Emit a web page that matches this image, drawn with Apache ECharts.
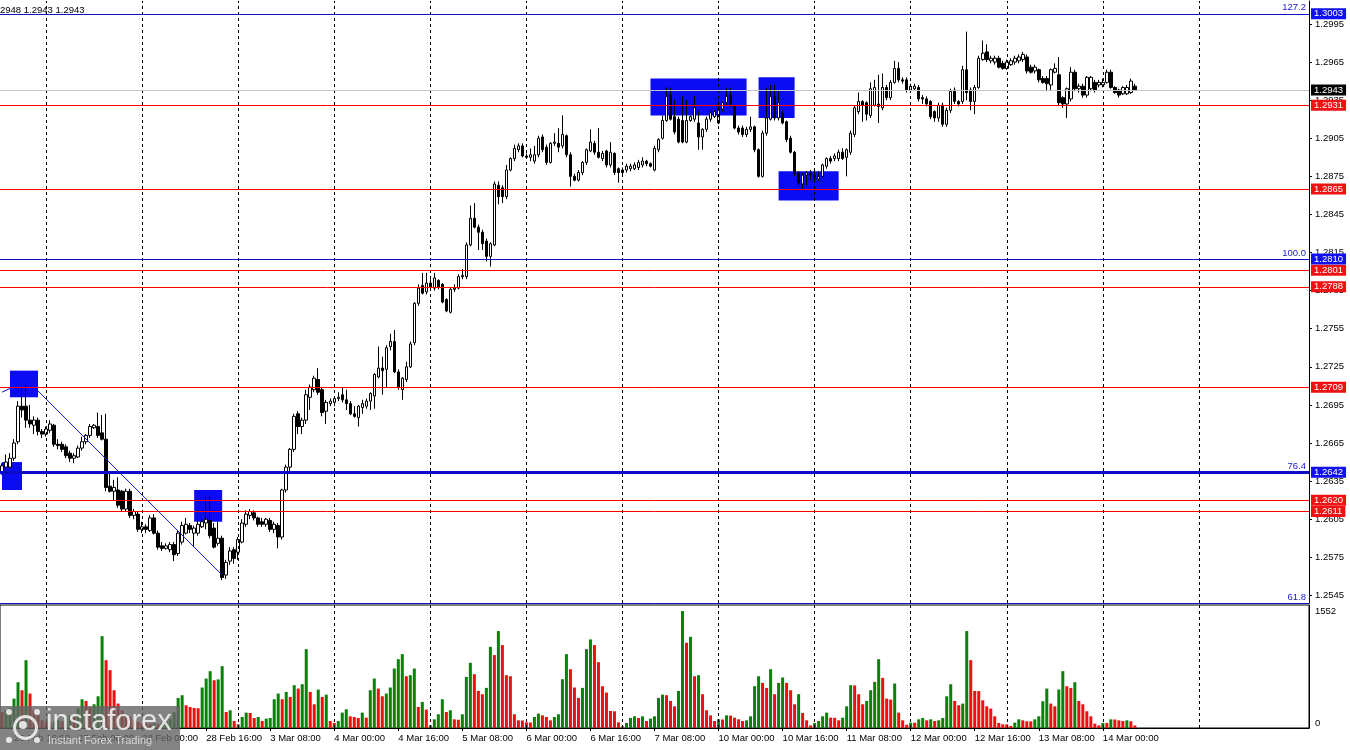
<!DOCTYPE html>
<html><head><meta charset="utf-8">
<script src="https://cdn.jsdelivr.net/npm/echarts@6/dist/echarts.min.js"></script>
<style>html,body{margin:0;padding:0;background:#fff;overflow:hidden}#c{width:1350px;height:750px}</style>
</head><body><div id="c"></div>
<script>
// ---------- data ----------
const tradingDays = ['26 Feb','27 Feb','28 Feb','3 Mar','4 Mar','5 Mar','6 Mar','7 Mar','10 Mar','11 Mar','12 Mar','13 Mar','14 Mar','17 Mar','18 Mar'];
const firstHour = 13;
const categoryCount = 327;
// [open, close, low, high]
const candles = [
[1.2642,1.2647,1.2640,1.2649],[1.2646,1.2650,1.2644,1.2656],[1.2646,1.2653,1.2645,1.2657],[1.2653,1.2665,1.2651,1.2668],
[1.2666,1.2694,1.2664,1.2698],[1.2694,1.2691,1.2685,1.2709],[1.2694,1.2683,1.2677,1.2711],[1.2683,1.2680,1.2677,1.2695],
[1.2679,1.2683,1.2672,1.2686],[1.2683,1.2674,1.2671,1.2685],[1.2674,1.2672,1.2669,1.2676],[1.2672,1.2676,1.2670,1.2678],
[1.2675,1.2680,1.2673,1.2683],[1.2679,1.2664,1.2662,1.2680],[1.2664,1.2663,1.2660,1.2668],[1.2664,1.2660,1.2658,1.2666],
[1.2662,1.2655,1.2653,1.2664],[1.2657,1.2653,1.2650,1.2659],[1.2653,1.2655,1.2649,1.2657],[1.2654,1.2661,1.2653,1.2663],
[1.2661,1.2666,1.2659,1.2670],[1.2666,1.2671,1.2664,1.2672],[1.2671,1.2678,1.2669,1.2680],[1.2677,1.2679,1.2676,1.2680],
[1.2678,1.2671,1.2669,1.2689],[1.2673,1.2668,1.2667,1.2687],[1.2668,1.2630,1.2627,1.2688],[1.2631,1.2627,1.2626,1.2642],
[1.2627,1.2630,1.2620,1.2636],[1.2628,1.2616,1.2614,1.2638],[1.2627,1.2613,1.2611,1.2628],[1.2613,1.2627,1.2611,1.2629],
[1.2627,1.2608,1.2606,1.2629],[1.2608,1.2611,1.2605,1.2613],[1.2609,1.2597,1.2595,1.2611],[1.2597,1.2599,1.2594,1.2603],
[1.2599,1.2597,1.2594,1.2601],[1.2596,1.2606,1.2595,1.2608],[1.2606,1.2594,1.2593,1.2609],[1.2594,1.2583,1.2581,1.2596],
[1.2584,1.2582,1.2580,1.2587],[1.2582,1.2584,1.2581,1.2586],[1.2581,1.2585,1.2579,1.2587],[1.2585,1.2577,1.2572,1.2587],
[1.2578,1.2594,1.2576,1.2596],[1.2587,1.2600,1.2585,1.2603],[1.2594,1.2601,1.2593,1.2606],[1.2600,1.2597,1.2594,1.2602],
[1.2594,1.2598,1.2583,1.2600],[1.2594,1.2601,1.2592,1.2604],[1.2599,1.2603,1.2598,1.2606],[1.2602,1.2605,1.2597,1.2623],
[1.2604,1.2592,1.2590,1.2623],[1.2598,1.2583,1.2582,1.2602],[1.2586,1.2590,1.2584,1.2603],[1.2590,1.2559,1.2557,1.2592],
[1.2561,1.2571,1.2558,1.2573],[1.2572,1.2580,1.2569,1.2583],[1.2581,1.2574,1.2570,1.2583],[1.2579,1.2589,1.2573,1.2591],
[1.2587,1.2602,1.2586,1.2605],[1.2601,1.2609,1.2599,1.2612],[1.2608,1.2611,1.2605,1.2613],[1.2610,1.2606,1.2604,1.2612],
[1.2606,1.2601,1.2599,1.2607],[1.2603,1.2601,1.2599,1.2606],[1.2601,1.2605,1.2599,1.2606],[1.2604,1.2597,1.2595,1.2606],
[1.2597,1.2601,1.2594,1.2603],[1.2600,1.2591,1.2582,1.2602],[1.2591,1.2628,1.2589,1.2629],[1.2628,1.2646,1.2626,1.2648],
[1.2646,1.2660,1.2642,1.2661],[1.2660,1.2686,1.2658,1.2688],[1.2688,1.2678,1.2672,1.2690],[1.2678,1.2683,1.2672,1.2685],
[1.2683,1.2703,1.2680,1.2707],[1.2701,1.2709,1.2691,1.2711],[1.2707,1.2716,1.2705,1.2718],[1.2715,1.2705,1.2703,1.2724],
[1.2707,1.2689,1.2686,1.2709],[1.2690,1.2697,1.2680,1.2699],[1.2696,1.2698,1.2694,1.2700],[1.2697,1.2700,1.2694,1.2702],
[1.2700,1.2701,1.2698,1.2705],[1.2703,1.2699,1.2697,1.2709],[1.2699,1.2696,1.2691,1.2707],[1.2696,1.2688,1.2687,1.2698],
[1.2688,1.2686,1.2685,1.2694],[1.2685,1.2694,1.2678,1.2695],[1.2693,1.2696,1.2688,1.2699],[1.2694,1.2698,1.2692,1.2700],
[1.2698,1.2704,1.2691,1.2705],[1.2702,1.2719,1.2692,1.2720],[1.2717,1.2724,1.2716,1.2741],[1.2724,1.2722,1.2703,1.2733],
[1.2723,1.2740,1.2709,1.2742],[1.2741,1.2745,1.2738,1.2751],[1.2745,1.2721,1.2720,1.2754],[1.2721,1.2709,1.2707,1.2723],
[1.2707,1.2716,1.2699,1.2717],[1.2715,1.2725,1.2713,1.2729],[1.2725,1.2743,1.2724,1.2745],[1.2744,1.2775,1.2742,1.2776],
[1.2775,1.2787,1.2773,1.2790],[1.2789,1.2783,1.2782,1.2799],[1.2784,1.2791,1.2782,1.2799],[1.2791,1.2788,1.2786,1.2794],
[1.2787,1.2795,1.2785,1.2799],[1.2793,1.2788,1.2786,1.2794],[1.2790,1.2776,1.2775,1.2791],[1.2778,1.2769,1.2768,1.2779],
[1.2768,1.2786,1.2767,1.2787],[1.2786,1.2787,1.2784,1.2790],[1.2787,1.2796,1.2786,1.2798],[1.2796,1.2797,1.2794,1.2802],
[1.2796,1.2821,1.2794,1.2823],[1.2821,1.2842,1.2820,1.2852],[1.2842,1.2835,1.2834,1.2854],[1.2835,1.2831,1.2817,1.2837],
[1.2831,1.2822,1.2817,1.2833],[1.2824,1.2812,1.2808,1.2826],[1.2812,1.2822,1.2804,1.2823],[1.2821,1.2869,1.2820,1.2871],
[1.2868,1.2859,1.2853,1.2871],[1.2866,1.2859,1.2854,1.2868],[1.2859,1.2880,1.2857,1.2884],[1.2880,1.2889,1.2879,1.2890],
[1.2889,1.2897,1.2887,1.2900],[1.2896,1.2899,1.2894,1.2901],[1.2899,1.2891,1.2890,1.2901],[1.2891,1.2890,1.2889,1.2893],
[1.2890,1.2892,1.2887,1.2897],[1.2887,1.2892,1.2885,1.2899],[1.2892,1.2905,1.2890,1.2907],[1.2906,1.2896,1.2894,1.2908],
[1.2898,1.2886,1.2884,1.2900],[1.2886,1.2901,1.2885,1.2902],[1.2901,1.2902,1.2899,1.2909],[1.2901,1.2898,1.2894,1.2913],
[1.2899,1.2908,1.2897,1.2923],[1.2907,1.2892,1.2890,1.2908],[1.2892,1.2875,1.2867,1.2894],[1.2875,1.2872,1.2871,1.2877],
[1.2872,1.2878,1.2871,1.2880],[1.2878,1.2886,1.2876,1.2887],[1.2886,1.2896,1.2884,1.2897],[1.2895,1.2902,1.2894,1.2912],
[1.2901,1.2894,1.2892,1.2903],[1.2894,1.2890,1.2889,1.2913],[1.2889,1.2893,1.2887,1.2895],[1.2895,1.2884,1.2882,1.2896],
[1.2884,1.2894,1.2882,1.2902],[1.2893,1.2878,1.2876,1.2894],[1.2881,1.2878,1.2870,1.2882],[1.2880,1.2878,1.2876,1.2882],
[1.2880,1.2883,1.2878,1.2885],[1.2881,1.2883,1.2879,1.2885],[1.2881,1.2884,1.2880,1.2886],[1.2882,1.2886,1.2880,1.2888],
[1.2884,1.2887,1.2882,1.2890],[1.2887,1.2885,1.2883,1.2888],[1.2885,1.2883,1.2882,1.2886],[1.2880,1.2897,1.2879,1.2899],
[1.2896,1.2904,1.2894,1.2905],[1.2905,1.2919,1.2904,1.2923],[1.2919,1.2938,1.2918,1.2945],[1.2939,1.2920,1.2919,1.2945],
[1.2922,1.2910,1.2908,1.2935],[1.2920,1.2902,1.2901,1.2922],[1.2919,1.2902,1.2901,1.2938],[1.2902,1.2919,1.2901,1.2935],
[1.2919,1.2922,1.2918,1.2923],[1.2920,1.2929,1.2918,1.2938],[1.2917,1.2906,1.2896,1.2927],[1.2906,1.2912,1.2896,1.2913],
[1.2912,1.2920,1.2910,1.2922],[1.2920,1.2925,1.2918,1.2927],[1.2922,1.2926,1.2921,1.2927],[1.2917,1.2929,1.2916,1.2931],
[1.2928,1.2933,1.2926,1.2934],[1.2933,1.2938,1.2931,1.2945],[1.2939,1.2932,1.2930,1.2945],[1.2930,1.2913,1.2912,1.2931],
[1.2913,1.2910,1.2908,1.2915],[1.2913,1.2908,1.2906,1.2915],[1.2908,1.2912,1.2906,1.2914],[1.2912,1.2914,1.2910,1.2922],
[1.2914,1.2896,1.2894,1.2915],[1.2896,1.2875,1.2874,1.2897],[1.2875,1.2909,1.2874,1.2911],[1.2909,1.2921,1.2907,1.2945],
[1.2920,1.2938,1.2919,1.2947],[1.2938,1.2921,1.2919,1.2947],[1.2921,1.2933,1.2919,1.2943],[1.2925,1.2917,1.2916,1.2927],
[1.2918,1.2904,1.2902,1.2919],[1.2905,1.2894,1.2893,1.2907],[1.2894,1.2877,1.2875,1.2895],[1.2878,1.2870,1.2868,1.2879],
[1.2869,1.2876,1.2865,1.2878],[1.2876,1.2878,1.2868,1.2879],[1.2878,1.2876,1.2872,1.2880],[1.2874,1.2876,1.2872,1.2880],
[1.2873,1.2875,1.2871,1.2879],[1.2875,1.2884,1.2874,1.2885],[1.2883,1.2889,1.2881,1.2890],[1.2889,1.2887,1.2885,1.2891],
[1.2889,1.2891,1.2887,1.2893],[1.2889,1.2894,1.2887,1.2896],[1.2894,1.2889,1.2888,1.2897],[1.2890,1.2896,1.2875,1.2897],
[1.2894,1.2909,1.2892,1.2911],[1.2908,1.2929,1.2906,1.2931],[1.2926,1.2934,1.2924,1.2941],[1.2934,1.2931,1.2918,1.2935],
[1.2933,1.2924,1.2919,1.2934],[1.2923,1.2944,1.2921,1.2949],[1.2931,1.2945,1.2930,1.2951],[1.2932,1.2930,1.2917,1.2955],
[1.2929,1.2945,1.2927,1.2956],[1.2945,1.2937,1.2935,1.2947],[1.2937,1.2949,1.2935,1.2951],[1.2949,1.2960,1.2948,1.2966],
[1.2960,1.2951,1.2949,1.2965],[1.2951,1.2950,1.2948,1.2953],[1.2951,1.2943,1.2941,1.2953],[1.2943,1.2946,1.2941,1.2948],
[1.2944,1.2946,1.2943,1.2948],[1.2945,1.2936,1.2934,1.2947],[1.2937,1.2936,1.2932,1.2939],[1.2936,1.2932,1.2930,1.2938],
[1.2934,1.2922,1.2920,1.2935],[1.2926,1.2921,1.2918,1.2927],[1.2921,1.2931,1.2918,1.2933],[1.2931,1.2916,1.2914,1.2933],
[1.2916,1.2927,1.2914,1.2929],[1.2927,1.2942,1.2925,1.2944],[1.2943,1.2934,1.2932,1.2945],[1.2934,1.2932,1.2930,1.2935],
[1.2934,1.2959,1.2932,1.2962],[1.2959,1.2941,1.2935,1.2989],[1.2943,1.2934,1.2927,1.2945],[1.2934,1.2945,1.2924,1.2947],
[1.2945,1.2968,1.2944,1.2970],[1.2967,1.2972,1.2966,1.2982],[1.2973,1.2967,1.2965,1.2979],[1.2966,1.2968,1.2964,1.2970],
[1.2965,1.2968,1.2963,1.2970],[1.2968,1.2961,1.2960,1.2970],[1.2964,1.2960,1.2959,1.2966],[1.2960,1.2965,1.2959,1.2967],
[1.2963,1.2966,1.2962,1.2968],[1.2965,1.2968,1.2963,1.2970],[1.2966,1.2969,1.2964,1.2971],[1.2967,1.2971,1.2965,1.2973],
[1.2969,1.2958,1.2956,1.2971],[1.2961,1.2957,1.2956,1.2963],[1.2958,1.2961,1.2956,1.2963],[1.2959,1.2951,1.2949,1.2960],
[1.2952,1.2949,1.2948,1.2954],[1.2952,1.2948,1.2942,1.2954],[1.2947,1.2959,1.2943,1.2960],[1.2957,1.2960,1.2956,1.2964],
[1.2955,1.2933,1.2931,1.2969],[1.2937,1.2932,1.2929,1.2938],[1.2932,1.2944,1.2921,1.2945],[1.2936,1.2957,1.2934,1.2961],
[1.2957,1.2944,1.2942,1.2959],[1.2944,1.2946,1.2941,1.2948],[1.2946,1.2939,1.2937,1.2948],[1.2939,1.2953,1.2937,1.2954],
[1.2944,1.2953,1.2942,1.2954],[1.2949,1.2943,1.2941,1.2951],[1.2947,1.2949,1.2945,1.2951],[1.2947,1.2949,1.2945,1.2952],
[1.2949,1.2957,1.2948,1.2959],[1.2957,1.2945,1.2944,1.2959],[1.2945,1.2941,1.2940,1.2946],[1.2943,1.2939,1.2937,1.2944],
[1.2940,1.2945,1.2939,1.2946],[1.2940,1.2945,1.2939,1.2947],[1.2941,1.2950,1.2940,1.2952],[1.2946,1.2943,1.2943,1.2948]
];
const volumes = [
213,235,270,390,607,501,900,457,235,168,102,80,
70,85,110,90,130,170,150,260,
381,359,279,315,421,1219,900,767,501,324,235,168,146,102,80,67,
60,55,70,50,65,90,120,210,
399,435,302,279,266,262,537,656,754,634,645,820,213,235,93,49,
146,204,200,133,146,93,124,133,381,457,381,479,412,568,523,581,1046,479,315,510,
412,443,93,67,93,204,248,155,146,133,204,137,501,656,523,421,457,537,789,913,
980,687,701,789,279,346,244,35,115,182,381,213,235,115,110,182,678,865,714,492,
448,532,1077,967,1286,1100,701,687,182,102,100,75,73,146,191,168,146,102,146,182,
647,980,780,537,399,532,1046,1175,1100,873,554,470,226,222,75,22,67,133,155,133,
155,93,124,155,399,443,435,359,288,492,1552,1131,1210,687,701,448,235,168,93,115,
113,168,165,137,115,93,102,155,554,687,599,532,780,448,599,670,599,501,315,448,
200,102,35,67,93,155,204,137,135,102,137,288,568,565,448,315,359,501,612,913,
665,390,377,590,204,102,44,71,70,115,133,102,115,93,102,133,421,581,359,302,
324,1286,900,492,490,368,288,257,155,67,49,48,27,71,115,102,89,88,115,155,
355,523,324,288,510,754,554,532,607,359,315,222,155,58,35,67,66,115,113,102,
93,102,89,35
];
const priceTicks = [1.2545,1.2575,1.2605,1.2635,1.2665,1.2695,1.2725,1.2755,1.2785,1.2815,1.2845,1.2875,1.2905,1.2935,1.2965,1.2995];
const volumeTicks = [0,1552];
const redLevels = [1.2931,1.2865,1.2801,1.2788,1.2709,1.2620,1.2611];
const blueLevels = [1.3003,1.2810];
const thickBlueLevels = [1.2642];
const fibNames = ['127.2','100.0','76.4','61.8'];
const fibValues = [1.3003,1.2810,1.2642,1.2539];
const bidPrice = 1.2943;
const headerText = '2948 1.2943 1.2943';
// boxes: [fromIndex, fromPrice, toIndex, toPrice]
const boxes = [[2,1.2722,9,1.2701],[0,1.2650,5,1.2628],[48,1.2628,55,1.2603],[162,1.2952,186,1.2923],[189,1.2953,198,1.2921],[194,1.2879,209,1.2856]];
const trendLines = [[0,1.2705,2,1.2708],[9,1.2706,55,1.2561]];
const dayStarts = [11,35,59,83,107,131,155,179,203,227,251,275,299];
const labelStart = 3, labelStep = 16;

// ---------- build ----------
const cats = [];
tradingDays.forEach((d,k)=>{
  for(let h=(k===0?firstHour:0); h<24; h++){
    if(cats.length<categoryCount) cats.push(d+' '+String(h).padStart(2,'0')+':00');
  }
});
const lastBar = candles.length-1;
const labelFn = (i)=> i<=lastBar && i>=labelStart && (i-labelStart)%labelStep===0;
const FONT = 'Liberation Sans, Arial, sans-serif';
const RED_LINE = '#ff0000', RED_BOX = '#f01212', BLUE_LINE = '#1010c8', BLUE_BOX = '#1010f0', THICK_BLUE = '#0a0ac8';
const VOL_UP = '#0a820a', VOL_DN = '#ee1010';

function boxLabel(v, bg){
  return {show:true, position:'end', distance:2, formatter: v.toFixed(4), color:'#fff', backgroundColor:bg,
    padding:[1,3,0,3], fontSize:9.5, fontFamily:FONT, lineHeight:10};
}
const priceMarks = [];
dayStarts.forEach(i=>priceMarks.push({xAxis:i, lineStyle:{color:'#000', type:[3,3], width:1}, label:{show:false}}));
redLevels.forEach(v=>priceMarks.push({yAxis:v, lineStyle:{color:RED_LINE, width:1, type:'solid'}, label:boxLabel(v, RED_BOX)}));
blueLevels.forEach(v=>priceMarks.push({yAxis:v, lineStyle:{color:BLUE_LINE, width:1, type:'solid'}, label:boxLabel(v, BLUE_BOX)}));
thickBlueLevels.forEach(v=>priceMarks.push({yAxis:v, lineStyle:{color:THICK_BLUE, width:3, type:'solid'}, label:boxLabel(v, BLUE_BOX)}));
priceMarks.push({yAxis:bidPrice, lineStyle:{color:'#c4c4c4', width:1, type:'solid'}, label:boxLabel(bidPrice, '#000')});
fibValues.forEach((v,k)=>priceMarks.push({yAxis:v,
  lineStyle:{color: k===2 ? THICK_BLUE : BLUE_LINE, width: k===2 ? 3 : 1, type:'solid'},
  label:{show:true, position:'insideEndTop', distance:[3,1], formatter:fibNames[k], color:'#2020d0', fontSize:9.5, fontFamily:FONT}}));
trendLines.forEach(t=>priceMarks.push([{coord:[t[0],t[1]], lineStyle:{color:'#1010c0', width:1, type:'solid'}, label:{show:false}},{coord:[t[2],t[3]]}]));

const volMarks = dayStarts.map(i=>({xAxis:i, lineStyle:{color:'#000', type:[3,3], width:1}, label:{show:false}}));

const chart = echarts.init(document.getElementById('c'), null, {renderer:'canvas'});
const WM = 'rgba(240,240,240,0.9)';
chart.setOption({
  animation:false,
  backgroundColor:'#fff',
  textStyle:{fontFamily:FONT},
  grid:[
    {left:-1, top:1, width:1310, height:602},
    {left:-1, top:605, width:1310, height:123, show:true, borderColor:'#000', borderWidth:1, backgroundColor:'transparent'}
  ],
  xAxis:[
    {type:'category', gridIndex:0, data:cats, boundaryGap:true, axisLine:{show:true, lineStyle:{color:'#000'}}, axisTick:{show:false}, axisLabel:{show:false}, splitLine:{show:false}},
    {type:'category', gridIndex:1, data:cats, boundaryGap:true, axisLine:{show:true, lineStyle:{color:'#000'}},
     axisTick:{show:true, alignWithLabel:true, interval:labelFn, length:3, lineStyle:{color:'#000'}},
     axisLabel:{interval:labelFn, align:'left', margin:5, fontSize:9.5, fontFamily:FONT, color:'#000'}, splitLine:{show:false}}
  ],
  yAxis:[
    {type:'value', gridIndex:0, position:'right', min:1.2539, max:1.30131, splitLine:{show:false},
     axisLine:{show:true, lineStyle:{color:'#000'}},
     axisTick:{show:true, length:3, customValues:priceTicks, lineStyle:{color:'#000'}},
     axisLabel:{customValues:priceTicks, formatter:v=>v.toFixed(4), margin:6, fontSize:9.5, fontFamily:FONT, color:'#000'}},
    {type:'value', gridIndex:1, position:'right', min:0, max:1632, splitLine:{show:false},
     axisLine:{show:true, lineStyle:{color:'#000'}},
     axisTick:{show:false, customValues:volumeTicks},
     axisLabel:{customValues:volumeTicks, formatter:v=>String(v), margin:6, fontSize:9.5, fontFamily:FONT, color:'#000', verticalAlignMinLabel:'bottom'}}
  ],
  series:[
    {type:'line', xAxisIndex:0, yAxisIndex:0, data:[], z:1, silent:true,
     markArea:{silent:true, itemStyle:{color:'#0c0cf2'}, data: boxes.map(b=>[{coord:[b[0],b[1]]},{coord:[b[2],b[3]]}])},
     markLine:{silent:true, symbol:'none', animation:false, precision:4, data:priceMarks}},
    {type:'candlestick', xAxisIndex:0, yAxisIndex:0, data:candles, barWidth:3, z:3, silent:true,
     itemStyle:{color:'#fff', color0:'#000', borderColor:'#000', borderColor0:'#000', borderWidth:1}},
    {type:'line', xAxisIndex:1, yAxisIndex:1, data:[], z:1, silent:true,
     markLine:{silent:true, symbol:'none', animation:false, data:volMarks}},
    {type:'bar', xAxisIndex:1, yAxisIndex:1, data:volumes, barWidth:3, z:3, silent:true,
     itemStyle:{color: p => (p.dataIndex>0 && volumes[p.dataIndex] > volumes[p.dataIndex-1]) ? VOL_UP : VOL_DN}}
  ],
  graphic:[
    {type:'text', left:0, top:5, z:50, style:{text:headerText, font:'9.5px '+FONT, fill:'#000'}},
    {type:'rect', left:0, top:706, z:100, shape:{width:180, height:44}, style:{fill:'rgba(100,100,100,0.8)'}},
    {type:'circle', left:12, top:714, z:101, shape:{r:11}, style:{fill:'none', stroke:WM, lineWidth:3}},
    {type:'circle', left:19, top:721, z:101, shape:{r:4}, style:{fill:WM}},
    {type:'circle', left:6, top:709, z:101, shape:{r:3}, style:{fill:WM}},
    {type:'circle', left:34, top:709, z:101, shape:{r:3}, style:{fill:WM}},
    {type:'circle', left:6, top:737, z:101, shape:{r:3}, style:{fill:WM}},
    {type:'circle', left:34, top:737, z:101, shape:{r:3}, style:{fill:WM}},
    {type:'text', left:46, top:707, z:101, style:{text:'instaforex', font:'29px '+FONT, fill:WM}},
    {type:'text', left:48, top:735, z:101, style:{text:'Instant Forex Trading', font:'11px '+FONT, fill:'rgba(220,220,220,0.95)'}}
  ]
});
</script></body></html>
